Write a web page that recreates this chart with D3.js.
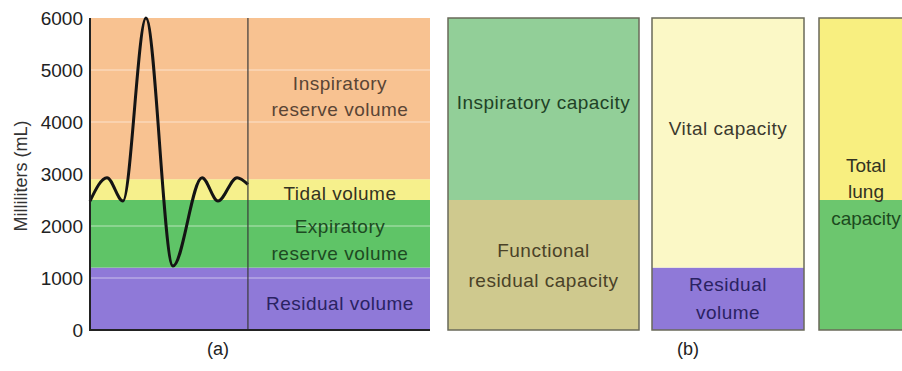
<!DOCTYPE html>
<html><head><meta charset="utf-8">
<script src="https://cdn.jsdelivr.net/npm/d3@7"></script>
<style>
html,body{margin:0;padding:0;background:#fff;}
svg{display:block;font-family:"Liberation Sans",Arial,Helvetica,sans-serif;}
</style></head>
<body>
<svg id="c" width="902" height="371"></svg>
<script>
// ---- data ----
const yTicks = [0, 1000, 2000, 3000, 4000, 5000, 6000];
const gridValues = [1000, 2000, 4000, 5000];
// panel (a) volume bands
const bandNames = ["Residual volume", "Expiratory reserve volume", "Tidal volume", "Inspiratory reserve volume"];
const bandLow  = [0, 1200, 2500, 2900];
const bandHigh = [1200, 2500, 2900, 6000];
const bandLabelLines = [["Residual volume"], ["Expiratory", "reserve volume"], ["Tidal volume"], ["Inspiratory", "reserve volume"]];
const bandLabelAt = [520, 1730, 2635, 4490];
// spirogram trace (time in s, volume in mL)
const traceTime   = [0, 1.0, 1.94, 3.29, 4.88, 6.59, 7.53, 8.65, 9.29];
const traceVolume = [2480, 2930, 2480, 6000, 1230, 2930, 2480, 2930, 2800];
const traceEnd = 9.29;
// panel (b) capacities
const capBoxes = ["box1", "box2", "box3"];
const capNames = [["Functional residual capacity", "Inspiratory capacity"], ["Residual volume", "Vital capacity"], ["", ""]];
const capLow   = [[0, 2500], [0, 1200], [0, 2500]];
const capHigh  = [[2500, 6000], [1200, 6000], [2500, 6000]];
const capLabels = [
  [{lines: ["Functional", "residual capacity"], v: 1250}, {lines: ["Inspiratory capacity"], v: 4385}],
  [{lines: ["Residual", "volume"], v: 600}, {lines: ["Vital capacity"], v: 3885}],
  [{lines: ["Total", "lung", "capacity"], v: 2660}]
];

// ---- layout / style ----
const svg = d3.select("#c");
const y = d3.scaleLinear().domain([0, 6000]).range([330, 18]);
const x = d3.scaleLinear().domain([0, 20]).range([90, 430]);
const bandColors = ["#8f79d8", "#5fc467", "#f6f08c", "#f8c291"];
const bandText = ["#2a2262", "#1d4a22", "#333322", "#5a4535"];
const capColors = [["#cfc98e", "#92cf98"], ["#8f79d8", "#fbf8c6"], ["#6cc66e", "#f8ef80"]];
const capText = [["#4a4228", "#1f4226"], ["#2a2262", "#3b3a2e"], ["#333322"]];
const boxX = [[448, 639], [652, 804], [819, 912]];
const fs = 19, ls = "0.5px";

// panel (a) bands
const gA = svg.append("g");
gA.selectAll("rect.band").data(bandNames).join("rect")
  .attr("x", x(0)).attr("width", x(20) - x(0))
  .attr("y", (d, i) => y(bandHigh[i]))
  .attr("height", (d, i) => y(bandLow[i]) - y(bandHigh[i]))
  .attr("fill", (d, i) => bandColors[i]);

gA.selectAll("line.grid").data(gridValues).join("line")
  .attr("x1", x(0)).attr("x2", x(20))
  .attr("y1", d => y(d)).attr("y2", d => y(d))
  .attr("stroke", "#fff").attr("stroke-opacity", 0.55).attr("stroke-width", 1.2);

// labels in bands
const labelCx = (x(traceEnd) + x(20)) / 2 + 1;
bandLabelLines.forEach((lines, i) => {
  const cy = y(bandLabelAt[i]);
  const lh = 26.5;
  lines.forEach((t, j) => {
    gA.append("text").attr("x", labelCx)
      .attr("y", cy + (j - (lines.length - 1) / 2) * lh)
      .attr("dy", "0.35em").attr("text-anchor", "middle")
      .attr("font-size", fs).attr("letter-spacing", ls).attr("fill", bandText[i]).text(t);
  });
});

// trace
const line = d3.line().x(d => x(d[0])).y(d => y(d[1])).curve(d3.curveMonotoneX);
gA.append("path").datum(traceTime.map((t, i) => [t, traceVolume[i]]))
  .attr("d", line).attr("fill", "none").attr("stroke", "#141414")
  .attr("stroke-width", 3).attr("stroke-linejoin", "round");

// vertical divider
gA.append("line").attr("x1", x(traceEnd)).attr("x2", x(traceEnd))
  .attr("y1", y(6000)).attr("y2", y(0)).attr("stroke", "#3a3a3a").attr("stroke-width", 1.2);

// axes
const yAxis = d3.axisLeft(y).tickValues(yTicks).tickSize(0).tickPadding(7).tickFormat(d3.format("d"));
const ax = gA.append("g").attr("transform", `translate(${x(0)},0)`).call(yAxis);
ax.select(".domain").remove();
ax.selectAll("text").attr("font-size", fs).attr("fill", "#222").attr("font-family", "Liberation Sans, Arial, sans-serif");
gA.append("line").attr("x1", x(0)).attr("x2", x(0)).attr("y1", y(6000)).attr("y2", y(0) + 1)
  .attr("stroke", "#222").attr("stroke-width", 2);
gA.append("line").attr("x1", x(0) - 1).attr("x2", x(20)).attr("y1", y(0)).attr("y2", y(0))
  .attr("stroke", "#222").attr("stroke-width", 2);

gA.append("text").attr("transform", `translate(21,176) rotate(-90)`)
  .attr("text-anchor", "middle").attr("dy", "0.35em").attr("font-size", 18).attr("fill", "#333")
  .text("Milliliters (mL)");

// panel (b)
const gB = svg.append("g");
capBoxes.forEach((b, i) => {
  const [x0, x1] = boxX[i];
  capLow[i].forEach((lo, k) => {
    gB.append("rect").attr("x", x0).attr("width", x1 - x0)
      .attr("y", y(capHigh[i][k])).attr("height", y(lo) - y(capHigh[i][k]))
      .attr("fill", capColors[i][k]);
  });
  gB.append("rect").attr("x", x0).attr("width", x1 - x0)
    .attr("y", y(6000)).attr("height", y(0) - y(6000))
    .attr("fill", "none").attr("stroke", "#6a6a5a").attr("stroke-width", 1.5);
  capLabels[i].forEach((lab, k) => {
    const cx = i === 2 ? 866 : (x0 + x1) / 2;
    const lh = i === 2 ? 26.5 : (i === 1 ? 28 : 30);
    lab.lines.forEach((t, j) => {
      const col = i === 2 ? (j === 2 ? "#1c4a1e" : "#333322") : capText[i][k];
      gB.append("text").attr("x", cx)
        .attr("y", y(lab.v) + (j - (lab.lines.length - 1) / 2) * lh)
        .attr("dy", "0.35em").attr("text-anchor", "middle")
        .attr("font-size", fs).attr("letter-spacing", i === 2 ? "0px" : ls).attr("fill", col).text(t);
    });
  });
});

// panel captions
svg.append("text").attr("x", 218).attr("y", 349).attr("dy", "0.35em").attr("text-anchor", "middle")
  .attr("font-size", 18).attr("fill", "#222").text("(a)");
svg.append("text").attr("x", 688).attr("y", 349).attr("dy", "0.35em").attr("text-anchor", "middle")
  .attr("font-size", 18).attr("fill", "#222").text("(b)");
</script>
</body></html>
